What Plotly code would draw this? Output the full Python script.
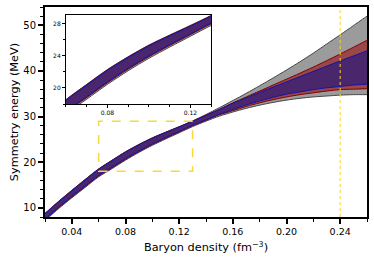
import plotly.graph_objects as go

density = [0.02, 0.03, 0.04, 0.05, 0.06, 0.07, 0.08, 0.09, 0.10, 0.11, 0.12, 0.13,
           0.14, 0.15, 0.16, 0.17, 0.18, 0.19, 0.20, 0.21, 0.22, 0.23, 0.24, 0.25, 0.26]

gray_upper = [8.8, 11.4, 13.85, 16.25, 18.55, 20.45, 22.3, 23.9, 25.35, 26.6, 27.8, 29.05,
              30.45, 31.95, 33.5, 35.1, 36.75, 38.45, 40.2, 42.0, 43.9, 45.9, 47.9, 49.95, 52.0]
gray_lower = [7.2, 9.8, 12.2, 14.5, 16.8, 18.6, 20.45, 22.15, 23.7, 25.1, 26.45, 27.8,
              29.0, 30.1, 31.0, 31.8, 32.5, 33.1, 33.6, 34.0, 34.3, 34.5, 34.7, 34.8, 34.8]
red_upper = [8.75, 11.35, 13.8, 16.2, 18.5, 20.4, 22.25, 23.85, 25.3, 26.55, 27.75, 29.0,
             30.3, 31.6, 33.0, 34.3, 35.6, 36.9, 38.2, 39.5, 40.85, 42.25, 43.7, 45.2, 46.7]
red_lower = [7.4, 10.0, 12.4, 14.7, 17.0, 18.8, 20.65, 22.35, 23.9, 25.3, 26.65, 28.0,
             29.2, 30.4, 31.3, 32.2, 33.0, 33.7, 34.3, 34.8, 35.2, 35.6, 35.9, 36.0, 36.1]
blue_upper = [8.7, 11.3, 13.75, 16.15, 18.45, 20.35, 22.2, 23.8, 25.25, 26.5, 27.7, 28.95,
              30.25, 31.55, 32.9, 34.1, 35.3, 36.45, 37.6, 38.75, 39.9, 41.05, 42.2, 43.3, 44.4]
blue_lower = [7.5, 10.1, 12.5, 14.8, 17.1, 18.9, 20.75, 22.45, 24.0, 25.4, 26.75, 28.1,
              29.3, 30.5, 31.55, 32.55, 33.4, 34.2, 34.9, 35.4, 35.9, 36.3, 36.6, 36.9, 37.1]

x_ticks = [0.04, 0.08, 0.12, 0.16, 0.20, 0.24]
x_tick_labels = ["0.04", "0.08", "0.12", "0.16", "0.20", "0.24"]
y_ticks = [10, 20, 30, 40, 50]
inset_x_ticks = [0.08, 0.12]
inset_y_ticks = [20, 24, 28]
zoom_box_x = [0.06, 0.13]
zoom_box_y = [18, 29]
marker_density = 0.24

bands = [
    (gray_lower, gray_upper, "rgb(155,155,155)", "rgb(70,70,70)"),
    (red_lower, red_upper, "rgb(155,70,72)", "rgb(130,0,0)"),
    (blue_lower, blue_upper, "rgb(74,38,108)", "rgb(20,20,170)"),
]

fig = go.Figure()
for xa, ya in [("x", "y"), ("x2", "y2")]:
    for lo, hi, fillc, linec in bands:
        fig.add_trace(go.Scatter(x=density, y=lo, mode="lines", xaxis=xa, yaxis=ya,
                                 line=dict(color=linec, width=1, shape="spline", smoothing=0.8),
                                 showlegend=False, hoverinfo="skip"))
        fig.add_trace(go.Scatter(x=density, y=hi, mode="lines", xaxis=xa, yaxis=ya,
                                 fill="tonexty", fillcolor=fillc,
                                 line=dict(color=linec, width=1, shape="spline", smoothing=0.8),
                                 showlegend=False, hoverinfo="skip"))

font = "DejaVu Sans"
fig.update_layout(
    width=374, height=261,
    margin=dict(l=45, r=7, t=7, b=44),
    paper_bgcolor="white", plot_bgcolor="white",
    font=dict(family=font, color="black", size=10),
    xaxis=dict(range=[0.02, 0.26], tickvals=x_ticks, ticktext=x_tick_labels,
               ticks="outside", ticklen=5, tickwidth=1.5, tickcolor="black",
               minor=dict(dtick=0.02, tick0=0.02, ticks="outside", ticklen=3, tickwidth=1, tickcolor="black"),
               showline=True, linewidth=2, linecolor="black", mirror=True,
               showgrid=False, zeroline=False, automargin=False,
               tickfont=dict(size=9.5),
               title=dict(text="Baryon density (fm<sup>−3</sup>)", font=dict(size=11.3), standoff=7)),
    yaxis=dict(range=[8, 54], tickvals=y_ticks,
               ticks="outside", ticklen=5, tickwidth=1.5, tickcolor="black",
               minor=dict(dtick=2, tick0=0, ticks="outside", ticklen=3, tickwidth=1, tickcolor="black"),
               showline=True, linewidth=2, linecolor="black", mirror=True,
               showgrid=False, zeroline=False, automargin=False,
               tickfont=dict(size=10),
               title=dict(text="Symmetry energy (MeV)", font=dict(size=11.3), standoff=2)),
    xaxis2=dict(domain=[0.065, 0.516], anchor="y2", range=[0.06, 0.13],
                tickvals=inset_x_ticks, ticktext=["0.08", "0.12"],
                ticks="outside", ticklen=3, tickwidth=1, tickcolor="black",
                minor=dict(dtick=0.01, tick0=0.06, ticks="outside", ticklen=2, tickwidth=1, tickcolor="black"),
                showline=True, linewidth=1, linecolor="black", mirror=True,
                showgrid=False, zeroline=False, tickfont=dict(size=6)),
    yaxis2=dict(domain=[0.538, 0.962], anchor="x2", range=[18, 29.1],
                tickvals=inset_y_ticks,
                ticks="outside", ticklen=3, tickwidth=1, tickcolor="black",
                minor=dict(dtick=2, tick0=18, ticks="outside", ticklen=2, tickwidth=1, tickcolor="black"),
                showline=True, linewidth=1, linecolor="black", mirror=True,
                showgrid=False, zeroline=False, tickfont=dict(size=6)),
)

fig.add_shape(type="rect", xref="x", yref="y", x0=zoom_box_x[0], x1=zoom_box_x[1],
              y0=zoom_box_y[0], y1=zoom_box_y[1], layer="above",
              line=dict(color="rgb(250,215,60)", width=1.5, dash="dash"))
fig.add_shape(type="line", xref="x", yref="paper", x0=marker_density, x1=marker_density,
              y0=0, y1=1, layer="above",
              line=dict(color="rgb(250,210,40)", width=1, dash="dot"))

fig.write_html("out.html", config={"displayModeBar": False},
               post_script="document.body.style.margin='0';document.body.style.padding='0';")
